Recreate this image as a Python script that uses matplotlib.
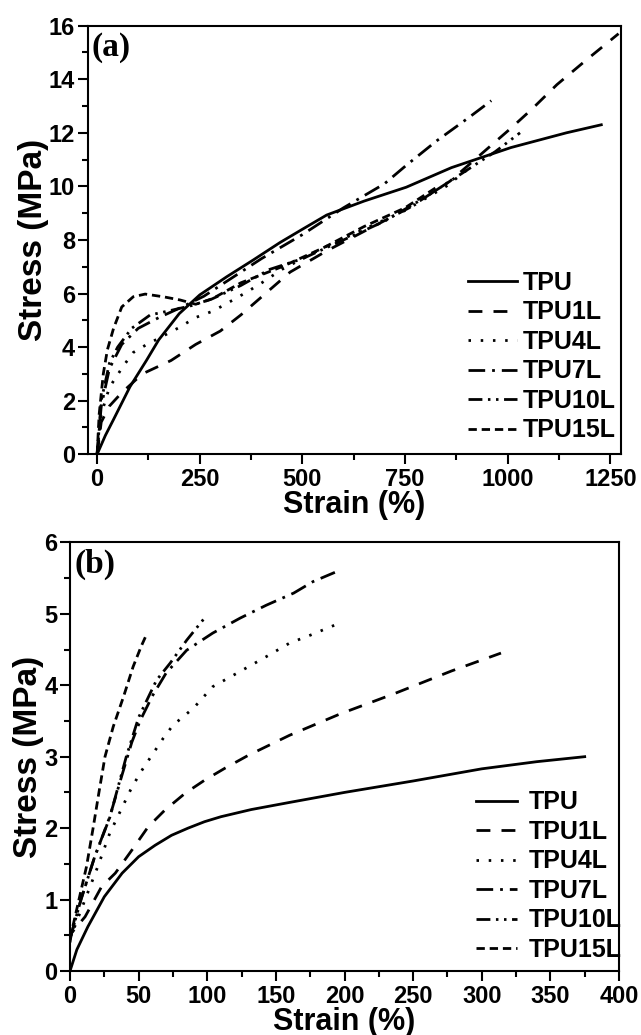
import numpy as np
import matplotlib
matplotlib.use('Agg')
import matplotlib.pyplot as plt
from matplotlib.ticker import MultipleLocator

plt.rcParams['lines.scale_dashes'] = False

# ---- panel (a) data ----
a_tpu_x = [0, 20, 40, 80, 120, 150, 200, 250, 316, 380, 445, 500, 559, 650, 753, 863, 1008, 1143, 1228]
a_tpu_y = [0, 0.7, 1.3, 2.52, 3.5, 4.27, 5.25, 5.95, 6.63, 7.25, 7.9, 8.4, 8.93, 9.45, 9.97, 10.7, 11.45, 12.0, 12.3]
a_1l_x = [0, 10, 30, 60, 110, 180, 240, 300, 350, 410, 470, 560, 660, 760, 860, 950, 1010, 1060, 1120, 1190, 1270]
a_1l_y = [0, 1.2, 1.8, 2.3, 3.0, 3.5, 4.1, 4.6, 5.2, 6.0, 6.8, 7.6, 8.4, 9.2, 10.2, 11.4, 12.2, 12.9, 13.8, 14.7, 15.7]
a_4l_x = [0, 10, 30, 64, 88, 121, 153, 202, 239, 283, 324, 364, 401, 450, 550, 650, 750, 850, 900]
a_4l_y = [0, 1.5, 2.5, 3.3, 3.8, 4.1, 4.35, 4.75, 5.1, 5.35, 5.7, 6.05, 6.4, 6.9, 7.7, 8.4, 9.1, 10.0, 10.6]
a_7l_x = [0, 10, 30, 60, 100, 150, 200, 260, 320, 400, 500, 600, 700, 754, 827, 908, 960]
a_7l_y = [0, 1.8, 3.2, 4.1, 4.7, 5.1, 5.45, 5.9, 6.5, 7.3, 8.2, 9.2, 10.1, 10.8, 11.7, 12.6, 13.2]
a_10l_x = [0, 10, 30, 50, 84, 129, 174, 230, 280, 350, 420, 500, 600, 700, 800, 900, 970, 1030]
a_10l_y = [0, 2.0, 3.4, 4.0, 4.7, 5.2, 5.35, 5.55, 5.8, 6.3, 6.9, 7.3, 8.0, 8.7, 9.6, 10.6, 11.3, 12.0]
a_15l_x = [0, 5, 15, 25, 40, 60, 88, 117, 161, 202, 240, 280, 350, 450, 550, 650, 750, 830]
a_15l_y = [0, 1.5, 3.0, 3.9, 4.7, 5.5, 5.88, 5.98, 5.88, 5.76, 5.6, 5.8, 6.4, 7.0, 7.7, 8.5, 9.2, 10.0]

# ---- panel (b) data ----
b_tpu_x = [0, 5, 13, 25, 38, 50, 62, 74, 86, 98, 110, 132, 160, 200, 250, 300, 340, 375]
b_tpu_y = [0, 0.3, 0.62, 1.04, 1.37, 1.6, 1.76, 1.9, 2.0, 2.09, 2.16, 2.26, 2.36, 2.5, 2.66, 2.83, 2.93, 3.0]
b_1l_x = [0, 1, 11, 23, 33, 45, 57, 69, 84, 98, 113, 130, 160, 197, 236, 278, 314]
b_1l_y = [0.4, 0.53, 0.76, 1.18, 1.37, 1.69, 2.02, 2.25, 2.49, 2.67, 2.84, 3.02, 3.3, 3.6, 3.88, 4.2, 4.45]
b_4l_x = [0, 10, 20, 29, 44, 51, 68, 75, 90, 104, 119, 143, 160, 175, 199]
b_4l_y = [0.45, 0.95, 1.45, 1.93, 2.53, 2.77, 3.26, 3.44, 3.68, 3.98, 4.14, 4.4, 4.59, 4.7, 4.89]
b_7l_x = [0, 8, 18, 29, 38, 45, 51, 60, 70, 85, 104, 124, 143, 163, 177, 193]
b_7l_y = [0.45, 1.0, 1.6, 2.16, 2.75, 3.2, 3.5, 3.85, 4.17, 4.49, 4.73, 4.94, 5.12, 5.29, 5.45, 5.58]
b_10l_x = [0, 8, 18, 29, 41, 50, 63, 73, 85, 98]
b_10l_y = [0.45, 1.0, 1.6, 2.15, 3.0, 3.55, 4.07, 4.31, 4.63, 4.94]
b_15l_x = [0, 7, 12, 17, 21, 25.5, 31.5, 39, 46, 52, 56]
b_15l_y = [0.45, 1.04, 1.46, 2.02, 2.49, 3.0, 3.42, 3.84, 4.26, 4.55, 4.72]

labels = ['TPU', 'TPU1L', 'TPU4L', 'TPU7L', 'TPU10L', 'TPU15L']
styles = [
    '-',
    (0, (10, 8)),
    (0, (1.8, 7)),
    (0, (12, 5, 2, 5)),
    (0, (10, 4, 1.8, 4, 1.8, 4)),
    (0, (6, 3.5)),
]

tick_font = {'family': 'Liberation Sans', 'weight': 'bold', 'size': 17}
xlab_font = {'family': 'Liberation Sans', 'weight': 'bold', 'size': 22}
ylab_font = {'family': 'Liberation Sans', 'weight': 'bold', 'size': 24}
leg_font = {'family': 'Liberation Sans', 'weight': 'bold', 'size': 18}

fig = plt.figure(figsize=(6.41, 10.35), dpi=100)
ax1 = fig.add_axes([0.1368, 0.5611, 0.832, 0.4141])
ax2 = fig.add_axes([0.1092, 0.0618, 0.8565, 0.4142])


def style_axes(ax):
    for sp in ax.spines.values():
        sp.set_linewidth(1.5)
    ax.tick_params(which='major', direction='out', length=7, width=1.5, pad=2,
                   top=False, right=False)
    ax.tick_params(which='minor', direction='out', length=4, width=1.5,
                   top=False, right=False)
    ax.tick_params(axis='x', which='major', pad=3)
    for t in ax.get_xticklabels() + ax.get_yticklabels():
        t.set_fontproperties(tick_font)


series_a = [(a_tpu_x, a_tpu_y), (a_1l_x, a_1l_y), (a_4l_x, a_4l_y),
            (a_7l_x, a_7l_y), (a_10l_x, a_10l_y), (a_15l_x, a_15l_y)]
for (x, y), ls, lab in zip(series_a, styles, labels):
    ax1.plot(x, y, color='black', lw=2.0, linestyle=ls, label=lab)
ax1.set_xlim(-23, 1276)
ax1.set_ylim(0, 16)
ax1.xaxis.set_major_locator(MultipleLocator(250))
ax1.xaxis.set_minor_locator(MultipleLocator(125))
ax1.yaxis.set_major_locator(MultipleLocator(2))
ax1.yaxis.set_minor_locator(MultipleLocator(1))
style_axes(ax1)
ax1.set_xlabel('Strain (%)', fontdict=xlab_font, labelpad=-1)
ax1.set_ylabel('Stress (MPa)', fontdict=ylab_font, labelpad=0)
ax1.text(0.008, 0.985, '(a)', transform=ax1.transAxes, ha='left', va='top',
         family='Liberation Serif', weight='bold', size=24)
ax1.legend(loc='center left', bbox_to_anchor=(0.713, 0.228), frameon=False,
           prop=leg_font, handlelength=1.95, handletextpad=0.25,
           labelspacing=0.22, borderpad=0, borderaxespad=0)

series_b = [(b_tpu_x, b_tpu_y), (b_1l_x, b_1l_y), (b_4l_x, b_4l_y),
            (b_7l_x, b_7l_y), (b_10l_x, b_10l_y), (b_15l_x, b_15l_y)]
for (x, y), ls, lab in zip(series_b, styles, labels):
    ax2.plot(x, y, color='black', lw=2.0, linestyle=ls, label=lab)
ax2.set_xlim(0, 400)
ax2.set_ylim(0, 6)
ax2.xaxis.set_major_locator(MultipleLocator(50))
ax2.xaxis.set_minor_locator(MultipleLocator(25))
ax2.yaxis.set_major_locator(MultipleLocator(1))
ax2.yaxis.set_minor_locator(MultipleLocator(0.5))
style_axes(ax2)
ax2.set_xlabel('Strain (%)', fontdict=xlab_font, labelpad=-1)
ax2.set_ylabel('Stress (MPa)', fontdict=ylab_font, labelpad=0)
ax2.text(0.008, 0.985, '(b)', transform=ax2.transAxes, ha='left', va='top',
         family='Liberation Serif', weight='bold', size=24)
ax2.legend(loc='center left', bbox_to_anchor=(0.7395, 0.2215), frameon=False,
           prop=leg_font, handlelength=1.65, handletextpad=0.45,
           labelspacing=0.22, borderpad=0, borderaxespad=0)

fig.savefig('out.png', dpi=100)
